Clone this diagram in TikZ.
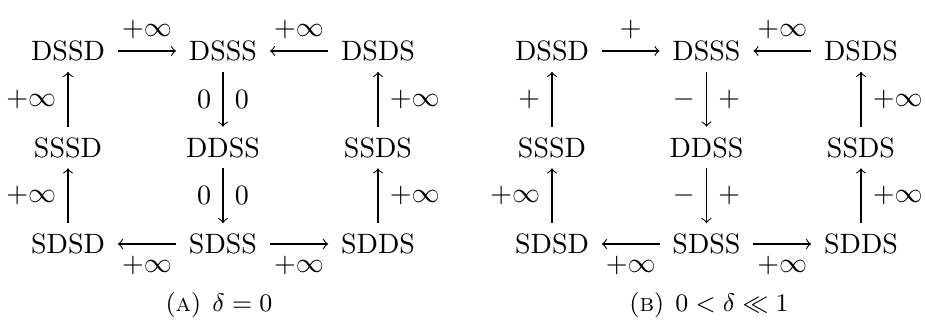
\documentclass[tikz,border=0pt]{standalone}
\begin{document}
\begin{tikzpicture}[x=0.35714pt,y=-0.35714pt,
  st/.style={inner xsep=4.4pt,inner ysep=3.6pt},
  lab/.style={inner sep=4pt},
  captext/.style={font=\small},
  arr/.style={->}]
\useasboundingbox (0,0) rectangle (925,320);
% left diagram
\node[st] (a11) at (68,51) {DSSD};
\node[st] (a12) at (223,51) {DSSS};
\node[st] (a13) at (378,51) {DSDS};
\node[st] (a21) at (68,147.5) {SSSD};
\node[st] (a22) at (223,147.5) {DDSS};
\node[st] (a23) at (378,147.5) {SSDS};
\node[st] (a31) at (68,244) {SDSD};
\node[st] (a32) at (223,244) {SDSS};
\node[st] (a33) at (378,244) {SDDS};
\draw[arr] (a11) -- node[lab,above]{$+\infty$} (a12);
\draw[arr] (a13) -- node[lab,above]{$+\infty$} (a12);
\draw[arr] (a21) -- node[lab,left]{$+\infty$} (a11);
\draw[arr] (a12) -- node[lab,left]{$0$} node[lab,right]{$0$} (a22);
\draw[arr] (a23) -- node[lab,right]{$+\infty$} (a13);
\draw[arr] (a31) -- node[lab,left]{$+\infty$} (a21);
\draw[arr] (a22) -- node[lab,left]{$0$} node[lab,right]{$0$} (a32);
\draw[arr] (a33) -- node[lab,right]{$+\infty$} (a23);
\draw[arr] (a32) -- node[lab,below]{$+\infty$} (a31);
\draw[arr] (a32) -- node[lab,below]{$+\infty$} (a33);
\node[captext] (capa) at (219,305) {(\textsc{a})\hspace{4pt}$\delta=0$};
% right diagram
\node[st] (b11) at (552,51) {DSSD};
\node[st] (b12) at (706.5,51) {DSSS};
\node[st] (b13) at (861,51) {DSDS};
\node[st] (b21) at (552,147.5) {SSSD};
\node[st] (b22) at (706.5,147.5) {DDSS};
\node[st] (b23) at (861,147.5) {SSDS};
\node[st] (b31) at (552,244) {SDSD};
\node[st] (b32) at (706.5,244) {SDSS};
\node[st] (b33) at (861,244) {SDDS};
\draw[arr] (b11) -- node[lab,above]{$+$} (b12);
\draw[arr] (b13) -- node[lab,above]{$+\infty$} (b12);
\draw[arr] (b21) -- node[lab,left]{$+$} (b11);
\draw[arr] (b12) -- node[lab,left]{$-$} node[lab,right]{$+$} (b22);
\draw[arr] (b23) -- node[lab,right]{$+\infty$} (b13);
\draw[arr] (b31) -- node[lab,left]{$+\infty$} (b21);
\draw[arr] (b22) -- node[lab,left]{$-$} node[lab,right]{$+$} (b32);
\draw[arr] (b33) -- node[lab,right]{$+\infty$} (b23);
\draw[arr] (b32) -- node[lab,below]{$+\infty$} (b31);
\draw[arr] (b32) -- node[lab,below]{$+\infty$} (b33);
\node[captext] (capb) at (709,305) {(\textsc{b})\hspace{4pt}$0<\delta\ll1$};
\end{tikzpicture}
\end{document}
